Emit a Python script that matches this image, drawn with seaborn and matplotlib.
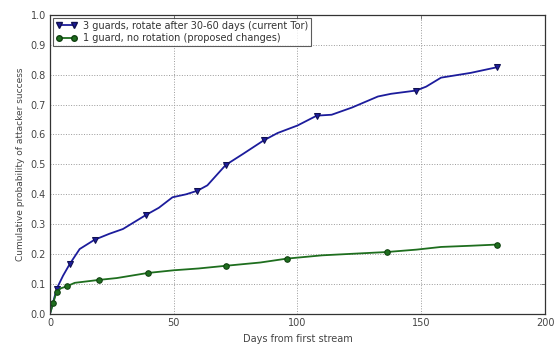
import matplotlib
matplotlib.use("Agg")
import matplotlib.pyplot as plt
from matplotlib.lines import Line2D
import seaborn as sns
import pandas as pd

# Days since first stream and cumulative attacker success probability
days_three_guards = [0, 1, 2.7, 5.3, 8, 12, 18, 24, 29.5, 38.8, 44, 49.5, 55, 59.6,
                     63.6, 71, 78, 86.3, 92, 100, 107.8, 113.8, 122, 132.5, 137.8,
                     148, 152, 158, 170, 180.7]
prob_three_guards = [0, 0.03, 0.084, 0.128, 0.167, 0.217, 0.248, 0.268, 0.284, 0.331,
                     0.355, 0.39, 0.40, 0.412, 0.43, 0.498, 0.535, 0.58, 0.605, 0.63,
                     0.663, 0.666, 0.69, 0.727, 0.736, 0.747, 0.76, 0.79, 0.806, 0.825]
marks_three_guards = [2, 4, 6, 9, 13, 15, 17, 20, 25, 29]

days_one_guard = [0, 1.3, 2.7, 4.5, 6.7, 10, 20, 27, 39.5, 50, 60, 71, 85, 95.7,
                  110, 136, 148, 158, 170, 180.7]
prob_one_guard = [0, 0.036, 0.075, 0.086, 0.092, 0.104, 0.114, 0.12, 0.137, 0.146,
                  0.152, 0.161, 0.172, 0.185, 0.196, 0.207, 0.215, 0.224, 0.228, 0.232]
marks_one_guard = [1, 2, 4, 6, 8, 11, 13, 15, 19]

labels = ["3 guards, rotate after 30-60 days (current Tor)",
          "1 guard, no rotation (proposed changes)"]
x_ticks = [0, 50, 100, 150, 200]
y_ticks = [0.0, 0.1, 0.2, 0.3, 0.4, 0.5, 0.6, 0.7, 0.8, 0.9, 1.0]

sns.set_style("white")
plt.rcParams["font.family"] = ["DejaVu Sans"]

fig = plt.figure(figsize=(5.55, 3.45), dpi=100)
ax = fig.add_axes([0.09, 0.09, 0.892, 0.867])

blue = "#1c1c9c"
green = "#1e6e1e"

df_a = pd.DataFrame({"day": days_three_guards, "p": prob_three_guards})
df_b = pd.DataFrame({"day": days_one_guard, "p": prob_one_guard})

sns.lineplot(data=df_a, x="day", y="p", ax=ax, color=blue, lw=1.3,
             marker="v", markersize=4.5, markevery=marks_three_guards,
             markeredgecolor="#101050", markerfacecolor=blue, sort=False)
sns.lineplot(data=df_b, x="day", y="p", ax=ax, color=green, lw=1.3,
             marker="o", markersize=4, markevery=marks_one_guard,
             markeredgecolor="#104010", markerfacecolor=green, sort=False)

ax.set_xlim(0, 200)
ax.set_ylim(0, 1.0)
ax.set_xticks(x_ticks)
ax.set_yticks(y_ticks)
ax.set_xticklabels([str(t) for t in x_ticks], fontsize=7, color="#444444")
ax.set_yticklabels([f"{t:.1f}" for t in y_ticks], fontsize=7, color="#444444")
ax.set_xlabel("Days from first stream", fontsize=7, color="#444444")
ax.set_ylabel("Cumulative probability of attacker success", fontsize=6.5,
              color="#444444")
ax.tick_params(direction="in", length=3, width=0.6, top=True, right=True,
               color="#666666", pad=3)
ax.grid(True, linestyle=":", color="#9a9a9a", linewidth=0.7)
for s in ax.spines.values():
    s.set_visible(True)
    s.set_color("#333333")
    s.set_linewidth(0.9)

handles = [
    Line2D([0], [0], color=blue, lw=1.3, marker="v", markersize=4.5,
           markeredgecolor="#101050", markerfacecolor=blue),
    Line2D([0], [0], color=green, lw=1.3, marker="o", markersize=4,
           markeredgecolor="#104010", markerfacecolor=green),
]
leg = ax.legend(handles, labels, loc="upper left", fontsize=7, numpoints=2,
                frameon=True, fancybox=False, handlelength=2.2,
                handletextpad=0.6, borderaxespad=0.3, borderpad=0.3,
                labelspacing=0.25)
leg.get_frame().set_edgecolor("#333333")
leg.get_frame().set_linewidth(0.8)
for t in leg.get_texts():
    t.set_color("#333333")

fig.savefig("out.png", dpi=100, facecolor="white")
